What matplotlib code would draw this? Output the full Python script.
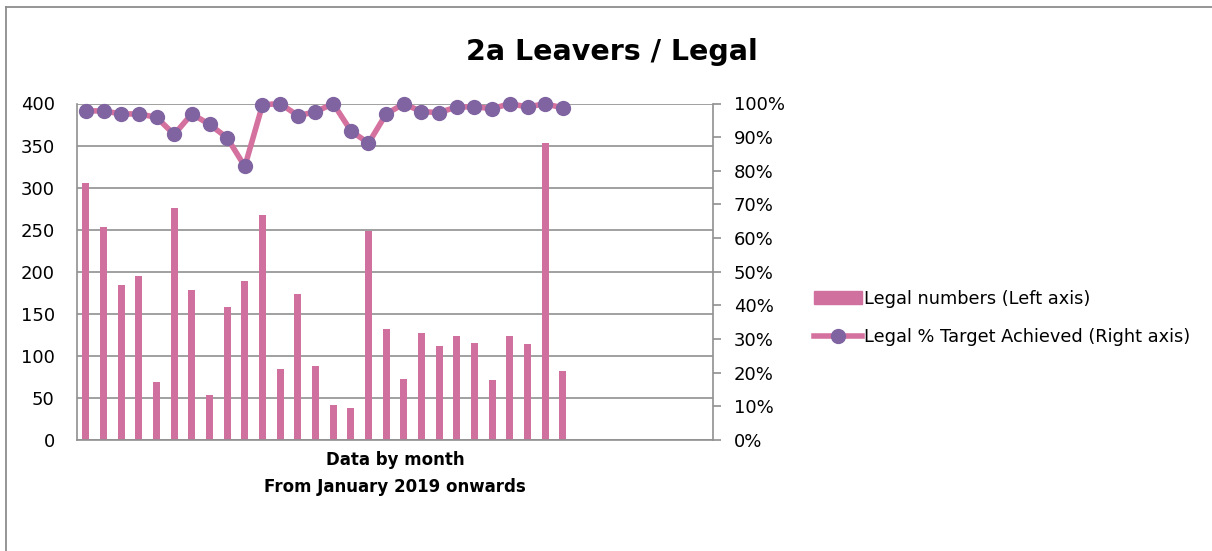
import matplotlib
matplotlib.use("Agg")
import matplotlib.pyplot as plt
from matplotlib.lines import Line2D
from matplotlib.ticker import FuncFormatter
import numpy as np

title = "2a Leavers / Legal"
xlabel = "Data by month\nFrom January 2019 onwards"
n_slots = 36
legal_numbers = [306, 253, 184, 195, 69, 276, 178, 53, 158, 189, 267, 84, 174, 88,
                 42, 38, 248, 132, 73, 127, 112, 124, 115, 71, 124, 114, 353, 82]
legal_pct = [97.8, 97.8, 96.9, 96.9, 95.9, 90.8, 96.9, 93.8, 89.8, 81.3, 99.6, 100, 96.4, 97.5,
             100, 91.9, 88.2, 96.9, 99.9, 97.6, 97.3, 99.0, 99.0, 98.5, 99.9, 99.0, 99.9, 98.7]
left_ticks = [0, 50, 100, 150, 200, 250, 300, 350, 400]
right_ticks = [0, 10, 20, 30, 40, 50, 60, 70, 80, 90, 100]

bar_color = "#D0709F"
line_color = "#D4719F"
marker_color = "#8064A2"
grid_color = "#909090"

plt.rcParams['font.family'] = ['DejaVu Sans']

W, H = 1212, 551
fig = plt.figure(figsize=(W / 100, H / 100), dpi=100)
ax = fig.add_axes([77 / W, 1 - 440 / H, (713 - 77) / W, (440 - 103.5) / H])

x = np.arange(len(legal_numbers))
ax.bar(x, legal_numbers, width=0.38, color=bar_color, zorder=2)
ax.set_xlim(-0.5, n_slots - 0.5)
ax.set_ylim(0, 400)
ax.set_yticks(left_ticks)
ax.yaxis.grid(True, color=grid_color, linewidth=1.2, zorder=0)
ax.set_axisbelow(True)
ax.set_xticks([])
ax.tick_params(axis='y', length=0, labelsize=13, pad=16)
for s in ['top', 'right']:
    ax.spines[s].set_visible(False)
for s in ['left', 'bottom']:
    ax.spines[s].set_color(grid_color)
    ax.spines[s].set_linewidth(1.2)
ax.set_xlabel(xlabel, fontsize=12, fontweight='bold', labelpad=8, linespacing=1.6)

ax2 = ax.twinx()
ax2.plot(x, legal_pct, color=line_color, linewidth=4, marker='o', markersize=10,
         markerfacecolor=marker_color, markeredgecolor=marker_color, zorder=3,
         clip_on=False)
ax2.set_ylim(0, 100)
ax2.set_yticks(right_ticks)
ax2.yaxis.set_major_formatter(FuncFormatter(lambda v, p: f"{int(v)}%"))
ax2.tick_params(axis='y', length=6, width=1.2, color=grid_color, labelsize=13, pad=9,
                direction='out')
for s in ['top', 'left', 'bottom']:
    ax2.spines[s].set_visible(False)
ax2.spines['right'].set_color(grid_color)
ax2.spines['right'].set_linewidth(1.2)

fig.text(612 / W, 1 - 52 / H, title, ha='center', va='center', fontsize=20.5, fontweight='bold')

handles = [
    plt.Rectangle((0, 0), 1, 1, color=bar_color),
    Line2D([0], [0], color=line_color, linewidth=4, marker='o', markersize=10,
           markerfacecolor=marker_color, markeredgecolor=marker_color),
]
labels = ["Legal numbers (Left axis)", "Legal % Target Achieved (Right axis)"]
fig.legend(handles, labels, loc='center left', bbox_to_anchor=(807 / W, 1 - 318 / H),
           frameon=False, fontsize=12.8, handlelength=2.7, handletextpad=0.1,
           labelspacing=1.15, borderaxespad=0)

# outer chart border
fig.add_artist(Line2D([6 / W, 6 / W], [0, 1 - 7 / H], transform=fig.transFigure,
                      color="#8C8C8C", linewidth=1.3))
fig.add_artist(Line2D([6 / W, 1], [1 - 7 / H, 1 - 7 / H], transform=fig.transFigure,
                      color="#8C8C8C", linewidth=1.3))

fig.savefig("out.png", dpi=100, facecolor='white')
